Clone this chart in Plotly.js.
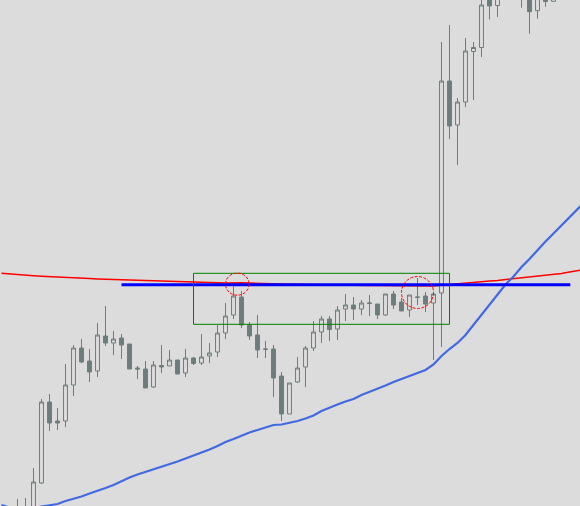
<!DOCTYPE html>
<html>
<head>
<meta charset="utf-8">
<script src="https://cdn.plot.ly/plotly-3.0.1.min.js"></script>
<style>html,body{margin:0;padding:0;background:#dcdcdc;}#chart{width:580px;height:506px;}</style>
</head>
<body>
<div id="chart"></div>
<script>
// Candle index (bar number)
const barIdx = [2,3,4,5,6,7,8,9,10,11,12,13,14,15,16,17,18,19,20,21,22,23,24,25,26,27,28,29,30,31,32,33,34,35,
  36,37,38,39,40,41,42,43,44,45,46,47,48,49,50,51,52,53,54,55,56,57,58,59,60,61,62,63,64,65,66,67,68,69];
const openP  = [90,88,85,117,198,179,179,215,252,239,229,264,257,262,256,232,231,213,234.5,234,240,227,242,237,244,248,267,285,303,275,265,250.5,251,224,
  186,218,233,252,268,281,271,291,295,291,296.5,296,285,306,298,290,302.5,304,297,307,519,475,498,548.5,552.5,615,594.5,610,630,605,620,589.3,615,598.7];
const highP  = [101,102,132,201,206,192,236,255,261,251,277,294,269,266,256,234,239,239,255,250,240,251,243,266,257,275,297,315,309,278,285,259,255,228,
  217,243,254,279,284,284,294,306,303,300,305,296,306,309,302,305,322,308,306,558,575,502,562,558,610,625,630,660,670,640,630,625,625,630];
const lowP   = [85,84,80,116,169,170,173,204,237,218,223,254,245,241,231,221,212,212,227,234,226,223,235,235,237,243,261,281,272,260,242,242,203,179,
  186,217,213,249,257,259,260,279,280,285,284,281,284,291,289,283,295,288,240,253,461,435,493,500,543,580.5,583,605,608,592.3,566.3,581.3,593.3,598.7];
const closeP = [92,91,118,198,177,177,215,252,238,228,265,257,261,255,231,231,212,235,233,240,226,242,236.5,243,247,267,284,304,275,264,250,251,222,186,
  217,232,252,268,281,270.5,290,295,291,297,297,285,306,295,289,305,303,296,306,519,474,498,549,552.5,595,594,620,650,615,625,588.3,615,598.5,620];

// Moving averages (one value per bar, bars 0..73)
const maIdx = [0,1,2,3,4,5,6,7,8,9,10,11,12,13,14,15,16,17,18,19,20,21,22,23,24,25,26,27,28,29,30,31,32,33,34,35,36,
  37,38,39,40,41,42,43,44,45,46,47,48,49,50,51,52,53,54,55,56,57,58,59,60,61,62,63,64,65,66,67,68,69,70,71,72,73];
const maFast = [95,92.5,91,91,91.5,93.5,95,96,99,101,103.5,106.5,109,112,115,119,122.5,125.5,128,130.5,133,136,138.5,141.5,144.5,147,150.5,154,158,161,164.5,167.5,170,172.5,175,175.5,177,
  179,181.5,184.5,189,192.5,195.5,198.5,201,205,208,211.5,214.5,218,221,224,227,230,235.5,244,251,257,265,275,286,296,306,315.5,323.5,333,341,350,358.5,366.5,374.5,382.5,391,399];
const maSlow = [326.8,326,325.4,324.7,324.2,323.7,323.2,322.8,322.4,322.1,321.8,321.4,321.1,320.8,320.6,320.3,320,319.8,319.5,319.2,319,318.7,318.5,318.2,318,317.7,317.5,317.3,317.1,317.4,317.2,317,316.9,316.7,316.5,316,315.7,
  315.5,315.3,315.2,315,314.9,314.8,314.7,314.6,314.5,314.4,314.4,314.3,314.3,314.4,314.3,314,313.9,313.9,314.7,315.5,316.4,317,317.7,318.2,318.9,319.5,320.4,321.2,321.9,322.7,323.6,324.4,325.7,326.6,328,329.5,330.5];

// Horizontal level line
const levelIdx = [15, 71.1];
const levelPrice = 315.2;

// Drawn objects: rectangle and circles [x0, x1, y0, y1]
const boxZone = [24, 56, 275.7, 326.7];
const circleA = [28.0, 30.95, 304.8, 326.9];
const circleB = [50.0, 54.0, 291.5, 323.5];

const candleGrey = '#6e7c7c';
const bg = '#dcdcdc';

const traces = [
  {
    type: 'candlestick', x: barIdx, open: openP, high: highP, low: lowP, close: closeP,
    increasing: {line: {color: candleGrey, width: 1}, fillcolor: bg},
    decreasing: {line: {color: candleGrey, width: 1}, fillcolor: candleGrey},
    whiskerwidth: 0, hoverinfo: 'skip'
  },
  {type: 'scatter', mode: 'lines', x: maIdx, y: maSlow, line: {color: '#ff0000', width: 1.5}, hoverinfo: 'skip'},
  {type: 'scatter', mode: 'lines', x: maIdx, y: maFast, line: {color: '#4169e1', width: 2.2}, hoverinfo: 'skip'},
  {type: 'scatter', mode: 'lines', x: levelIdx, y: levelIdx.map(() => levelPrice), line: {color: '#0000ff', width: 3}, hoverinfo: 'skip'}
];

const layout = {
  width: 580, height: 506,
  margin: {l: 0, r: 0, t: 0, b: 0, pad: 0},
  paper_bgcolor: bg, plot_bgcolor: bg,
  showlegend: false,
  xaxis: {range: [-0.1875, 72.3125], visible: false, rangeslider: {visible: false}, showgrid: false, zeroline: false},
  yaxis: {range: [94, 600], visible: false, showgrid: false, zeroline: false},
  shapes: [
    {type: 'rect', xref: 'x', yref: 'y', x0: boxZone[0], x1: boxZone[1], y0: boxZone[2], y1: boxZone[3],
      line: {color: '#008000', width: 1}, fillcolor: 'rgba(0,0,0,0)', layer: 'above'},
    {type: 'circle', xref: 'x', yref: 'y', x0: circleA[0], x1: circleA[1], y0: circleA[2], y1: circleA[3],
      line: {color: '#ff0000', width: 1, dash: '3px,1.5px'}, fillcolor: 'rgba(0,0,0,0)', layer: 'above'},
    {type: 'circle', xref: 'x', yref: 'y', x0: circleB[0], x1: circleB[1], y0: circleB[2], y1: circleB[3],
      line: {color: '#ff0000', width: 1, dash: '3px,1.5px'}, fillcolor: 'rgba(0,0,0,0)', layer: 'above'}
  ]
};

Plotly.newPlot('chart', traces, layout, {displayModeBar: false, staticPlot: true});
</script>
</body>
</html>
